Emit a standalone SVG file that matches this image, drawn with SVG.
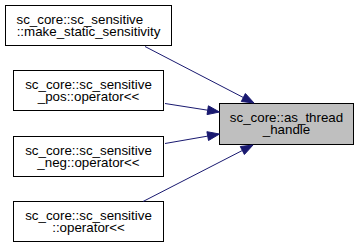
<svg xmlns="http://www.w3.org/2000/svg" width="359" height="248" viewBox="0 0 359 248">
  <style>
    .node rect { fill: #ffffff; stroke: #000000; stroke-width: 1; }
    .node.current rect { fill: #bfbfbf; stroke: #000000; }
    .node text { font-family: "Liberation Sans", Arial, sans-serif; font-size: 13.33px; fill: #000000; }
    .edge line { stroke: #191970; stroke-width: 1; }
    .edge polygon { fill: #191970; stroke: #191970; stroke-width: 1; }
  </style>
  <rect width="359" height="248" fill="#ffffff"/>

  <!-- callers -->
  <g id="node_make_static_sensitivity" class="node">
    <rect x="5.5" y="5.5" width="166" height="40"/>
    <text x="16.5" y="24" text-anchor="start">sc_core::sc_sensitive</text>
    <text x="88.5" y="36" text-anchor="middle">::make_static_sensitivity</text>
  </g>
  <g id="node_pos_operator" class="node">
    <rect x="13.5" y="70.5" width="150" height="40"/>
    <text x="88.5" y="89" text-anchor="middle">sc_core::sc_sensitive</text>
    <text x="88.5" y="101" text-anchor="middle">_pos::operator&lt;&lt;</text>
  </g>
  <g id="node_neg_operator" class="node">
    <rect x="13.5" y="136.5" width="150" height="40"/>
    <text x="88.5" y="155" text-anchor="middle">sc_core::sc_sensitive</text>
    <text x="88.5" y="167" text-anchor="middle">_neg::operator&lt;&lt;</text>
  </g>
  <g id="node_operator" class="node">
    <rect x="13.5" y="201.5" width="150" height="40"/>
    <text x="88.5" y="220" text-anchor="middle">sc_core::sc_sensitive</text>
    <text x="88.5" y="232" text-anchor="middle">::operator&lt;&lt;</text>
  </g>

  <!-- callee -->
  <g id="node_as_thread_handle" class="node current">
    <rect x="219.5" y="103.5" width="134" height="41"/>
    <text x="286.5" y="122" text-anchor="middle">sc_core::as_thread</text>
    <text x="286.5" y="134" text-anchor="middle">_handle</text>
  </g>

  <!-- call edges -->
  <g id="edges" class="edge">
    <line x1="145" y1="46.5" x2="243.3" y2="97.5"/>
    <polygon points="241.3,101.5 254,103 245.4,93.5"/>

    <line x1="165" y1="103.5" x2="207.7" y2="110.2"/>
    <polygon points="207,114.6 219.5,112 208.4,105.8"/>

    <line x1="165" y1="143.5" x2="207.7" y2="136.1"/>
    <polygon points="208.5,140.5 219.5,134 206.9,131.7"/>

    <line x1="143" y1="201.5" x2="242.3" y2="150.5"/>
    <polygon points="244.4,154.5 253,145 240.3,146.5"/>
  </g>
</svg>
